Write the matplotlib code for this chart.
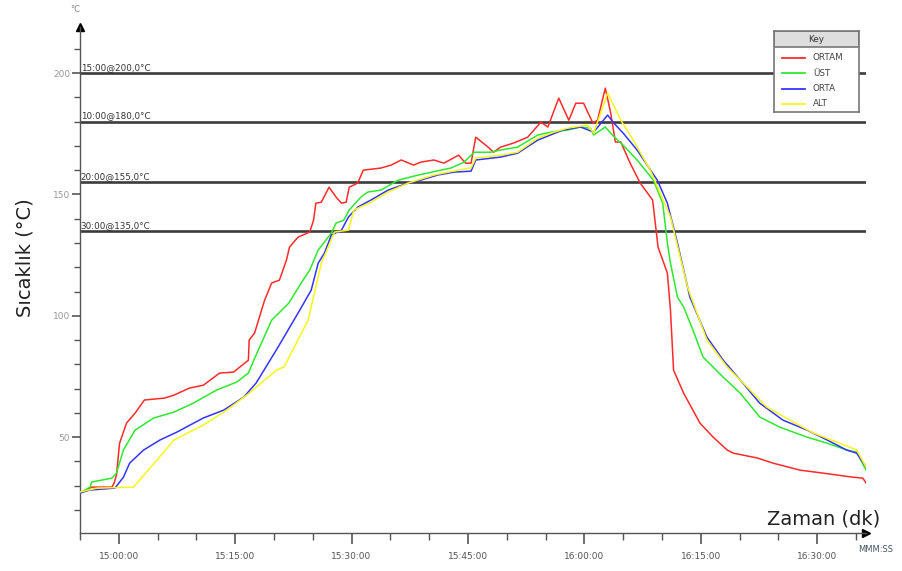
import matplotlib.pyplot as plt
from matplotlib.ticker import MultipleLocator, FuncFormatter
from matplotlib.patches import Rectangle

# zaman: 15:00:00'dan itibaren dakika
seriler = ['ORTAM', 'ÜST', 'ORTA', 'ALT']
renkler = ['#ff2a2a', '#2ee82e', '#3434ff', '#f7f71a']

t_ortam = [-5.0, -3.5, -0.9, -0.6, -0.3, 0.1, 1.0, 2.1, 3.3, 5.9, 7.1, 9.1, 10.9, 13.0, 14.8, 15.6,
           16.7, 16.8, 17.5, 18.8, 19.7, 20.7, 21.6, 22.0, 23.1, 24.6, 25.1, 25.4, 26.1, 27.1, 28.0,
           28.7, 29.3, 29.7, 30.8, 31.5, 33.8, 35.1, 36.4, 38.0, 38.9, 40.6, 41.9, 43.8, 44.7, 45.4,
           46.0, 47.6, 48.3, 49.2, 50.9, 52.7, 54.4, 55.3, 56.7, 58.0, 58.9, 59.9, 61.1, 61.7, 62.7,
           63.4, 64.0, 64.7, 65.9, 67.2, 68.8, 69.5, 70.7, 71.1, 71.5, 72.8, 74.9, 76.6, 78.4, 79.2,
           82.3, 84.3, 87.8, 90.7, 94.6, 95.9, 96.3]
v_ortam = [27.0, 29.4, 29.4, 31.1, 34.4, 47.5, 55.8, 59.9, 65.3, 66.1, 67.3, 70.2, 71.4, 76.4, 76.8, 78.9,
           81.7, 90.0, 92.9, 106.5, 113.5, 114.7, 122.9, 128.3, 132.4, 134.5, 139.4, 146.4, 146.8, 153.0, 148.9,
           146.4, 146.8, 153.0, 154.7, 160.0, 160.9, 162.1, 164.2, 162.1, 163.3, 164.2, 162.9, 166.2, 162.9, 162.9,
           173.6, 169.5, 167.4, 169.5, 171.2, 173.6, 179.8, 177.8, 189.7, 180.6, 187.6, 187.6, 179.4, 180.6, 193.8,
           183.5, 171.6, 171.6, 162.9, 154.7, 147.7, 128.3, 117.6, 102.3, 77.6, 68.1, 55.8, 50.0, 44.7, 43.4,
           41.4, 39.3, 36.4, 35.2, 33.5, 33.1, 31.1]

t_ust = [-5.0, -3.7, -3.5, -0.9, -0.3, 0.6, 2.1, 4.5, 7.1, 9.6, 12.6, 15.2, 16.7, 17.4, 19.7, 21.9,
         23.5, 24.6, 25.7, 27.4, 28.0, 29.0, 29.7, 31.2, 32.1, 33.8, 36.0, 38.6, 42.8, 44.5, 45.8,
         47.9, 49.2, 51.4, 54.0, 55.7, 57.8, 59.5, 60.8, 61.2, 62.7, 63.6, 65.0, 66.8, 68.9, 70.1,
         70.7, 71.1, 72.0, 72.8, 74.0, 75.3, 77.9, 80.1, 82.6, 85.2, 88.7, 91.3, 93.8, 95.1, 96.3]
v_ust = [27.0, 29.4, 31.5, 33.1, 35.2, 44.7, 52.9, 57.9, 60.3, 64.0, 69.4, 72.7, 76.4, 81.7, 98.2, 105.2,
         113.5, 118.8, 127.1, 134.1, 138.2, 139.4, 143.6, 148.9, 151.0, 151.8, 155.9, 158.0, 160.9, 163.3, 167.4,
         167.4, 168.3, 169.5, 174.5, 175.7, 176.5, 177.8, 177.3, 174.5, 177.8, 174.5, 170.3, 164.2, 155.9, 146.4,
         130.0, 121.7, 107.7, 103.6, 94.1, 83.0, 74.7, 68.1, 58.3, 54.1, 50.0, 47.5, 44.7, 43.8, 36.4]

t_orta = [-5.0, -3.7, -0.5, 0.6, 1.4, 3.2, 5.3, 7.5, 10.9, 13.5, 16.1, 17.7, 20.3, 23.1, 24.8, 25.7,
          26.5, 27.4, 28.7, 29.6, 30.8, 32.5, 34.7, 37.3, 38.9, 41.1, 43.2, 45.4, 46.0, 49.2, 51.4,
          54.0, 57.2, 59.5, 61.2, 63.0, 63.8, 65.0, 66.8, 69.4, 70.7, 72.0, 73.6, 75.8, 77.9, 80.1,
          82.6, 85.6, 88.7, 91.3, 93.8, 95.1, 96.3]
v_orta = [27.0, 28.2, 29.0, 33.5, 39.3, 44.7, 48.8, 52.1, 57.9, 61.1, 66.5, 72.3, 85.9, 101.1, 110.6, 121.7,
          125.8, 133.3, 135.3, 140.7, 144.8, 147.7, 151.8, 154.7, 155.9, 158.0, 159.2, 159.6, 164.2, 165.4, 167.0,
          172.4, 176.5, 177.8, 175.7, 182.7, 179.4, 175.3, 168.3, 155.9, 146.4, 130.0, 107.7, 91.2, 81.7, 73.5,
          64.0, 57.0, 52.9, 48.8, 44.7, 43.4, 37.7]

t_alt = [-5.0, -2.8, 1.9, 4.9, 7.1, 10.9, 13.9, 16.8, 20.3, 21.3, 24.4, 26.1, 27.0, 27.8, 29.6, 30.3,
         32.5, 34.7, 37.3, 40.6, 43.7, 45.4, 46.0, 49.2, 51.4, 54.0, 55.7, 57.8, 60.4, 61.2, 63.0,
         64.7, 66.3, 68.5, 71.1, 73.3, 75.8, 78.4, 81.0, 83.5, 86.5, 89.5, 92.9, 95.1, 96.3]
v_alt = [27.4, 29.0, 29.4, 40.5, 48.8, 55.0, 61.1, 68.1, 77.6, 78.9, 98.2, 121.7, 128.3, 134.5, 135.3, 143.6,
         146.8, 151.0, 154.7, 158.0, 160.0, 160.9, 165.0, 166.2, 167.4, 173.2, 175.3, 177.3, 178.6, 175.3, 191.8,
         180.6, 172.4, 160.0, 140.7, 111.8, 90.0, 78.9, 70.6, 62.4, 57.0, 51.7, 47.5, 44.7, 37.7]

limit_deger = [200, 180, 155, 135]
limit_etiket = ['15:00@200,0°C', '10:00@180,0°C', '20:00@155,0°C', '30:00@135,0°C']

zamanlar = [t_ortam, t_ust, t_orta, t_alt]
degerler = [v_ortam, v_ust, v_orta, v_alt]

W, H = 903, 571
fig = plt.figure(figsize=(W / 100, H / 100), dpi=100)
ax = fig.add_axes([80 / W, 1 - 533 / H, (866 - 80) / W, (533 - 27) / H])
xmin, xmax = -5.0, 96.3
ax.set_xlim(xmin, xmax)
ax.set_ylim(10.5, 219)

# limit cizgileri
ax.hlines(limit_deger, xmin, xmax, colors='#3c3c3c', lw=1.9, zorder=1)
for d, e in zip(limit_deger, limit_etiket):
    ax.text(xmin + 0.1, d + 0.5, e, fontsize=6.3, color='#333333', va='bottom', ha='left')

for t, v, c in zip(zamanlar, degerler, renkler):
    ax.plot(t, v, color=c, lw=1.1, zorder=3)

for s in ['top', 'right']:
    ax.spines[s].set_visible(False)
for s in ['left', 'bottom']:
    ax.spines[s].set_color('#555555')
    ax.spines[s].set_linewidth(1.0)

def zaman_fmt(m, pos):
    tot = int(round(m)) + 15 * 60
    return '%02d:%02d:00' % (tot // 60, tot % 60)

ax.xaxis.set_major_locator(MultipleLocator(15))
ax.xaxis.set_minor_locator(MultipleLocator(5))
ax.xaxis.set_major_formatter(FuncFormatter(zaman_fmt))
ax.set_yticks([50, 100, 150, 200])
ax.yaxis.set_minor_locator(MultipleLocator(10))
ax.tick_params(axis='x', which='major', length=8, width=1.2, color='#555555',
               labelsize=6.5, labelcolor='#555555', pad=6)
ax.tick_params(axis='x', which='minor', length=5, width=1, color='#555555')
ax.tick_params(axis='y', which='major', length=6, width=1.2, color='#555555',
               labelsize=6.5, labelcolor='#999999', pad=1)
ax.tick_params(axis='y', which='minor', length=4, width=1, color='#555555')

# eksen oklari
ax.plot(0, 1, marker='^', color='black', ms=6, transform=ax.transAxes, clip_on=False)
ax.plot(1, 0, marker='>', color='black', ms=6, transform=ax.transAxes, clip_on=False)

fig.text(25 / W, 1 - 258 / H, 'Sıcaklık (°C)', rotation=90, fontsize=14,
         ha='center', va='center', color='#222222')
fig.text(824 / W, 1 - 519 / H, 'Zaman (dk)', fontsize=14, ha='center', va='center',
         color='#222222')
fig.text(75 / W, 1 - 9 / H, '°C', fontsize=6, color='#888888', ha='center', va='center')
fig.text(858 / W, 1 - 549 / H, 'MMM:SS', fontsize=6, color='#445566', ha='left', va='center')

# legend kutusu
lx, ly, lw_, lh = 774, 31, 85, 81
lax = fig.add_axes([lx / W, 1 - (ly + lh) / H, lw_ / W, lh / H])
lax.set_xlim(0, lw_)
lax.set_ylim(lh, 0)
lax.set_xticks([])
lax.set_yticks([])
for s in lax.spines.values():
    s.set_color('#777777')
    s.set_linewidth(1.2)
lax.add_patch(Rectangle((0, 0), lw_, 16, facecolor='#dedede', edgecolor='#777777', lw=1.2))
lax.text(lw_ / 2, 8.5, 'Key', fontsize=6.3, ha='center', va='center', color='#333333')
for i, (s, c) in enumerate(zip(seriler, renkler)):
    y = 27 + i * 15.3
    lax.plot([8, 31], [y, y], color=c, lw=1.3)
    lax.text(39, y, s, fontsize=6.3, ha='left', va='center', color='#444444')

fig.savefig('out.png', dpi=100)
